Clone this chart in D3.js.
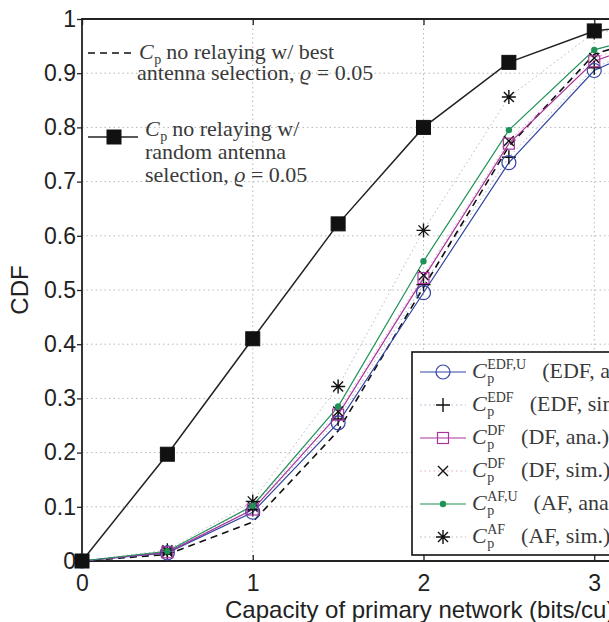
<!DOCTYPE html>
<html>
<head>
<meta charset="UTF-8">
<script src="https://cdn.jsdelivr.net/npm/d3@7"></script>
<style>
	body { margin: 0; background: #fff; }
	svg { display: block; }
	.tick text { font-family: "Liberation Sans", Arial, sans-serif; font-size: 23px; fill: #222; }
	.grid line { stroke: #b8b8b8; stroke-width: 1; stroke-dasharray: 1.5,3; }
	.leg { font-family: "Liberation Serif", "Times New Roman", serif; font-size: 22px; fill: #3a3a3a; }
	.leg-s { font-family: "Liberation Serif", "Times New Roman", serif; font-size: 14px; fill: #3a3a3a; }
	.ttl { font-family: "Liberation Sans", Arial, sans-serif; font-size: 24px; fill: #222; }
</style>
</head>
<body>
<div id="chart"></div>
<script>
// x positions of the samples
var capacity = [0, 0.5, 1, 1.5, 2, 2.5, 3, 3.5, 4];

// C_p without relaying
var randomAntenna = [0, 0.197, 0.41, 0.622, 0.80, 0.92, 0.978, 0.996, 1.0];
var bestAntenna   = [0, 0.012, 0.072, 0.24, 0.505, 0.765, 0.935, 0.985, 0.998];

// relaying, analysis and simulation
var edfAna = [0, 0.015, 0.09, 0.255, 0.495, 0.735, 0.905, 0.975, 0.995];
var edfSim = [0, 0.016, 0.095, 0.262, 0.51, 0.745, 0.91, 0.977, 0.996];
var dfAna  = [0, 0.016, 0.095, 0.27, 0.522, 0.77, 0.922, 0.98, 0.997];
var dfSim  = [0, 0.017, 0.1, 0.276, 0.527, 0.775, 0.928, 0.982, 0.997];
var afAna  = [0, 0.018, 0.102, 0.285, 0.553, 0.795, 0.943, 0.986, 0.998];
var afSim  = [0, 0.02, 0.11, 0.322, 0.61, 0.856, 0.975, 0.993, 0.999];

var xTicks = [0, 1, 2, 3, 4];
var yTicks = [0, 0.1, 0.2, 0.3, 0.4, 0.5, 0.6, 0.7, 0.8, 0.9, 1];

(function(d3) {
	var W = 609, H = 622;
	var mLeft = 82, mTop = 19, plotW = 683, plotH = 542;

	var svg = d3.select("#chart").append("svg")
		.attr("width", W).attr("height", H);

	var x = d3.scaleLinear().domain([0, 4]).range([mLeft, mLeft + plotW]);
	var y = d3.scaleLinear().domain([0, 1]).range([mTop + plotH, mTop]);

	// grid
	var grid = svg.append("g").attr("class", "grid");
	grid.selectAll("line.gy").data(yTicks.slice(1, -1)).enter().append("line")
		.attr("x1", x(0)).attr("x2", x(4))
		.attr("y1", function(d) { return y(d); }).attr("y2", function(d) { return y(d); });
	grid.selectAll("line.gx").data(xTicks.slice(1, -1)).enter().append("line")
		.attr("y1", y(0)).attr("y2", y(1))
		.attr("x1", function(d) { return x(d); }).attr("x2", function(d) { return x(d); });

	// axes
	var yAxis = svg.append("g")
		.attr("transform", "translate(" + mLeft + ",0)")
		.call(d3.axisLeft(y).tickValues(yTicks).tickSize(5).tickPadding(1)
			.tickFormat(function(d) { return d3.format("~g")(d); }));
	var xAxis = svg.append("g")
		.attr("transform", "translate(0," + (mTop + plotH) + ")")
		.call(d3.axisBottom(x).tickValues(xTicks).tickSize(-6).tickPadding(14)
			.tickFormat(d3.format("d")));
	var xTop = svg.append("g")
		.attr("transform", "translate(0," + mTop + ")")
		.call(d3.axisTop(x).tickValues(xTicks).tickSize(-6).tickFormat(""));
	[yAxis, xAxis, xTop].forEach(function(a) {
		a.select(".domain").remove();
		a.selectAll(".tick line").attr("stroke", "#222").attr("stroke-width", 1.3);
	});

	// frame
	svg.append("path")
		.attr("d", "M" + x(4) + "," + y(1) + "H" + x(0) + "V" + y(0) + "H" + x(4))
		.attr("fill", "none").attr("stroke", "#222").attr("stroke-width", 1.8);

	// axis titles
	svg.append("text").attr("class", "ttl")
		.attr("x", 225).attr("y", 618)
		.text("Capacity of primary network (bits/cu)");
	svg.append("text").attr("class", "ttl")
		.attr("transform", "translate(28," + y(0.5) + ") rotate(-90)")
		.attr("text-anchor", "middle")
		.text("CDF");

	var line = d3.line()
		.x(function(d, i) { return x(capacity[i]); })
		.y(function(d) { return y(d); });

	var plot = svg.append("g");

	function drawMarker(g, type, cx, cy, color) {
		if (type === "fsquare") {
			g.append("rect").attr("x", cx - 7).attr("y", cy - 7).attr("width", 14).attr("height", 14)
				.attr("fill", "#111").attr("stroke", "#111");
		} else if (type === "circle") {
			g.append("circle").attr("cx", cx).attr("cy", cy).attr("r", 7)
				.attr("fill", "none").attr("stroke", color).attr("stroke-width", 1.2);
		} else if (type === "osquare") {
			g.append("rect").attr("x", cx - 5.5).attr("y", cy - 5.5).attr("width", 11).attr("height", 11)
				.attr("fill", "none").attr("stroke", color).attr("stroke-width", 1.2);
		} else if (type === "dot") {
			g.append("circle").attr("cx", cx).attr("cy", cy).attr("r", 3.2).attr("fill", color);
		} else if (type === "plus") {
			g.append("path").attr("d", "M" + (cx - 7) + "," + cy + "h14M" + cx + "," + (cy - 7) + "v14")
				.attr("stroke", "#111").attr("stroke-width", 1.4);
		} else if (type === "cross") {
			g.append("path").attr("d", "M" + (cx - 5) + "," + (cy - 5) + "l10,10M" + (cx - 5) + "," + (cy + 5) + "l10,-10")
				.attr("stroke", "#111").attr("stroke-width", 1.4);
		} else if (type === "star") {
			g.append("path").attr("d", "M" + (cx - 7) + "," + cy + "h14M" + cx + "," + (cy - 7) + "v14" +
				"M" + (cx - 5) + "," + (cy - 5) + "l10,10M" + (cx - 5) + "," + (cy + 5) + "l10,-10")
				.attr("stroke", "#111").attr("stroke-width", 1.4);
		}
	}

	var series = [
		{ v: dfSim,  color: "#e7a6cf", dash: "1.5,3", width: 1, marker: "cross" },
		{ v: edfSim, color: "#aab3d0", dash: "1.5,3", width: 1, marker: "plus" },
		{ v: afSim,  color: "#b9b9b9", dash: "1.5,3", width: 1, marker: "star" },
		{ v: bestAntenna, color: "#111", dash: "7,5", width: 1.6, marker: null },
		{ v: edfAna, color: "#3346a3", dash: null, width: 1.2, marker: "circle" },
		{ v: dfAna,  color: "#a9359c", dash: null, width: 1.2, marker: "osquare" },
		{ v: afAna,  color: "#1f9258", dash: null, width: 1.2, marker: "dot" },
		{ v: randomAntenna, color: "#222", dash: null, width: 1.5, marker: "fsquare" }
	];

	series.forEach(function(s) {
		plot.append("path").datum(s.v)
			.attr("d", line)
			.attr("fill", "none")
			.attr("stroke", s.color)
			.attr("stroke-width", s.width)
			.attr("stroke-dasharray", s.dash);
	});
	series.forEach(function(s) {
		if (!s.marker) return;
		var g = plot.append("g");
		s.v.forEach(function(d, i) {
			drawMarker(g, s.marker, x(capacity[i]), y(d), s.color);
		});
	});

	// C_p with optional superscript, returns x where the next text goes
	function cp(g, x0, base, sup) {
		var c = g.append("text").attr("class", "leg").attr("x", x0).attr("y", base)
			.style("font-style", "italic").text("C");
		var xs = x0 + c.node().getComputedTextLength() + 0.5;
		var p = g.append("text").attr("class", "leg-s").attr("x", xs).attr("y", base + 5).text("p");
		var w = p.node().getComputedTextLength();
		if (sup) {
			var s = g.append("text").attr("class", "leg-s").attr("x", xs).attr("y", base - 9).text(sup);
			w = Math.max(w, s.node().getComputedTextLength());
		}
		return xs + w + 5;
	}

	// upper legend, no box
	var leg1 = svg.append("g");
	leg1.append("line").attr("x1", 88).attr("x2", 136).attr("y1", 53).attr("y2", 53)
		.attr("stroke", "#111").attr("stroke-width", 1.6).attr("stroke-dasharray", "7,5");
	var nx = cp(leg1, 139, 59, null);
	leg1.append("text").attr("class", "leg").attr("x", nx).attr("y", 59).text("no relaying w/ best");
	var t2 = leg1.append("text").attr("class", "leg").attr("x", 137).attr("y", 80);
	t2.append("tspan").text("antenna selection, ");
	t2.append("tspan").style("font-style", "italic").text("ϱ");
	t2.append("tspan").text(" = 0.05");

	leg1.append("line").attr("x1", 88).attr("x2", 138).attr("y1", 137).attr("y2", 137)
		.attr("stroke", "#222").attr("stroke-width", 1.5);
	drawMarker(leg1, "fsquare", 114, 137, "#111");
	nx = cp(leg1, 145, 136, null);
	leg1.append("text").attr("class", "leg").attr("x", nx).attr("y", 136).text("no relaying w/");
	leg1.append("text").attr("class", "leg").attr("x", 145).attr("y", 159).text("random antenna");
	var t5 = leg1.append("text").attr("class", "leg").attr("x", 145).attr("y", 182);
	t5.append("tspan").text("selection, ");
	t5.append("tspan").style("font-style", "italic").text("ϱ");
	t5.append("tspan").text(" = 0.05");

	// lower legend, boxed
	var legRows = [
		{ s: series[4], sup: "EDF,U", label: "(EDF, ana.)" },
		{ s: series[1], sup: "EDF", label: "(EDF, sim.)" },
		{ s: series[5], sup: "DF", label: "(DF, ana.)" },
		{ s: series[0], sup: "DF", label: "(DF, sim.)" },
		{ s: series[6], sup: "AF,U", label: "(AF, ana.)" },
		{ s: series[2], sup: "AF", label: "(AF, sim.)" }
	];
	var leg2 = svg.append("g");
	leg2.append("rect").attr("x", 412).attr("y", 352).attr("width", 360).attr("height", 203)
		.attr("fill", "#fff").attr("stroke", "#111").attr("stroke-width", 1.6);
	legRows.forEach(function(r, i) {
		var cy = 372 + i * 33;
		leg2.append("line").attr("x1", 420).attr("x2", 466).attr("y1", cy).attr("y2", cy)
			.attr("stroke", r.s.color).attr("stroke-width", r.s.width).attr("stroke-dasharray", r.s.dash);
		drawMarker(leg2, r.s.marker, 443, cy, r.s.color);
		var lx = cp(leg2, 472, cy + 6, r.sup);
		leg2.append("text").attr("class", "leg").attr("x", lx + 11).attr("y", cy + 6).text(r.label);
	});
})(window.d3);
</script>
</body>
</html>
